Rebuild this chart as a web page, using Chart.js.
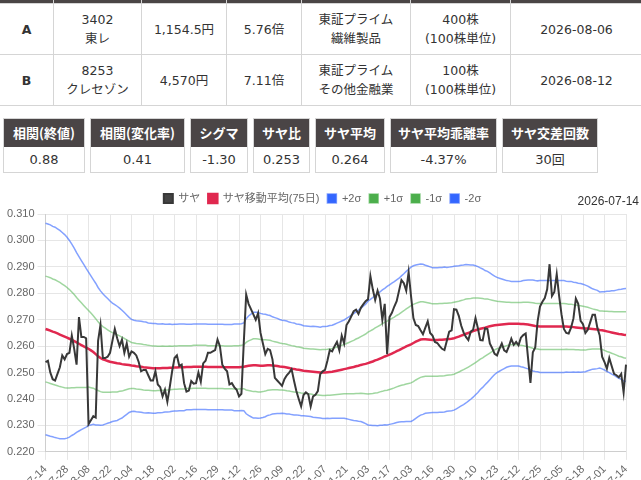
<!DOCTYPE html>
<html>
<head>
<meta charset="utf-8">
<title>サヤ推移</title>
<script src="https://cdn.jsdelivr.net/npm/chart.js"></script>
<style>
    body {
        margin: 0;
        width: 641px;
        overflow: hidden;
        background: #fff;
        color: #333;
        font-family: "DejaVu Sans", "Noto Sans CJK JP", sans-serif;
        font-size: 12.5px;
    }
    table.pair {
        border-collapse: collapse;
        width: 643px;
        margin-left: -1px;
        table-layout: fixed;
    }
    table.pair th {
        background: #4a4545;
        height: 3px;
        padding: 0;
        border-left: 1px solid #d5d5d5;
        border-right: 1px solid #d5d5d5;
    }
    table.pair td {
        border: 1px solid #d5d5d5;
        text-align: center;
        height: 50px;
        padding: 0;
        line-height: 19px;
    }
    table.pair td.code { font-weight: bold; }
    .stats {
        display: flex;
        gap: 5px;
        margin: 12px 0 0 3px;
    }
    .box {
        border: 1px solid #d5d5d5;
        box-sizing: border-box;
        text-align: center;
    }
    .box .hd {
        background: #4a4546;
        color: #fff;
        font-weight: bold;
        font-family: "Noto Sans CJK JP", sans-serif;
        font-size: 13px;
        height: 28px;
        line-height: 28px;
    }
    .box .vl {
        height: 25px;
        line-height: 25px;
        font-size: 13px;
    }
    .chart-wrap {
        position: relative;
        width: 641px;
        height: 330px;
        margin-top: 12px;
    }
    #asof {
        position: absolute;
        right: 2px;
        top: 9px;
        font-family: "Liberation Sans", sans-serif;
        font-size: 12px;
        color: #333;
    }
</style>
</head>
<body>
<table class="pair">
    <colgroup>
        <col style="width:54px"><col style="width:88px"><col style="width:85px"><col style="width:75px">
        <col style="width:109px"><col style="width:100px"><col style="width:132px">
    </colgroup>
    <thead><tr><th></th><th></th><th></th><th></th><th></th><th></th><th></th></tr></thead>
    <tbody>
        <tr>
            <td class="code">A</td><td>3402<br>東レ</td><td>1,154.5円</td><td>5.76倍</td>
            <td>東証プライム<br>繊維製品</td><td>400株<br>(100株単位)</td><td>2026-08-06</td>
        </tr>
        <tr>
            <td class="code">B</td><td>8253<br>クレセゾン</td><td>4,570円</td><td>7.11倍</td>
            <td>東証プライム<br>その他金融業</td><td>100株<br>(100株単位)</td><td>2026-08-12</td>
        </tr>
    </tbody>
</table>

<div class="stats" id="stats"></div>

<div class="chart-wrap">
    <div id="asof">2026-07-14</div>
    <canvas id="sayaChart"></canvas>
</div>

<script>
    // summary boxes
    const statNames  = ['相関(終値)', '相関(変化率)', 'シグマ', 'サヤ比', 'サヤ平均', 'サヤ平均乖離率', 'サヤ交差回数'];
    const statValues = ['0.88', '0.41', '-1.30', '0.253', '0.264', '-4.37%', '30回'];
    const statWidths = [82, 95, 58, 57, 70, 107, 96];

    const statsDiv = document.getElementById('stats');
    statNames.forEach((name, i) => {
        const box = document.createElement('div');
        box.className = 'box';
        box.style.width = statWidths[i] + 'px';
        box.innerHTML = '<div class="hd">' + name + '</div><div class="vl">' + statValues[i] + '</div>';
        statsDiv.appendChild(box);
    });

    // trading days (TSE), 2025-07-14 .. 2026-07-14
    const firstDay = '2025-07-14';
    const lastDay = '2026-07-14';
    const holidays = [
        '2025-07-21', '2025-08-11', '2025-09-15', '2025-09-23', '2025-10-13', '2025-11-03',
        '2025-11-24', '2025-12-31', '2026-01-01', '2026-01-02', '2026-01-12', '2026-02-11',
        '2026-02-23', '2026-03-20', '2026-04-29', '2026-05-04', '2026-05-05', '2026-05-06'
    ];

    function tradingDays(from, to) {
        const out = [];
        const d = new Date(from + 'T00:00:00Z');
        const end = new Date(to + 'T00:00:00Z');
        while (d <= end) {
            const s = d.toISOString().slice(0, 10);
            const wd = d.getUTCDay();
            if (wd !== 0 && wd !== 6 && !holidays.includes(s)) out.push(s);
            d.setUTCDate(d.getUTCDate() + 1);
        }
        return out;
    }
    const dates = tradingDays(firstDay, lastDay);

    // サヤ (A/B price ratio)
    const saya = [
        0.2540, 0.2545, 0.2500, 0.2475, 0.2470, 0.2495, 0.2520, 0.2565, 0.2550,
        0.2570, 0.2575, 0.2640, 0.2590, 0.2530, 0.2710, 0.2635, 0.2635, 0.2630,
        0.2305, 0.2320, 0.2335, 0.2330, 0.2620, 0.2680, 0.2555, 0.2555, 0.2560,
        0.2575, 0.2620, 0.2665, 0.2630, 0.2600, 0.2625, 0.2575, 0.2610, 0.2560,
        0.2580, 0.2575, 0.2565, 0.2540, 0.2505, 0.2510, 0.2510, 0.2490, 0.2470,
        0.2470, 0.2505, 0.2455, 0.2445, 0.2410, 0.2435, 0.2390, 0.2445, 0.2505,
        0.2555, 0.2565, 0.2525, 0.2530, 0.2460, 0.2428, 0.2432, 0.2468, 0.2458,
        0.2460, 0.2500, 0.2465, 0.2535, 0.2545, 0.2575, 0.2575, 0.2580, 0.2585,
        0.2625, 0.2600, 0.2530, 0.2515, 0.2505, 0.2455, 0.2460, 0.2445, 0.2435,
        0.2410, 0.2420, 0.2615, 0.2795, 0.2760, 0.2740, 0.2720, 0.2700, 0.2725,
        0.2650, 0.2610, 0.2570, 0.2590, 0.2585, 0.2550, 0.2480, 0.2470, 0.2460,
        0.2450, 0.2475, 0.2490, 0.2500, 0.2513, 0.2470, 0.2430, 0.2400, 0.2372,
        0.2415, 0.2425, 0.2418, 0.2372, 0.2410, 0.2416, 0.2430, 0.2494, 0.2505,
        0.2510, 0.2545, 0.2585, 0.2580, 0.2600, 0.2616, 0.2584, 0.2640, 0.2610,
        0.2680, 0.2694, 0.2713, 0.2732, 0.2738, 0.2722, 0.2745, 0.2758, 0.2770,
        0.2777, 0.2865, 0.2815, 0.2775, 0.2810, 0.2780, 0.2700, 0.2760, 0.2570,
        0.2710, 0.2726, 0.2750, 0.2770, 0.2810, 0.2850, 0.2838, 0.2810, 0.2880,
        0.2790, 0.2706, 0.2680, 0.2676, 0.2660, 0.2645, 0.2670, 0.2694, 0.2650,
        0.2640, 0.2616, 0.2612, 0.2600, 0.2590, 0.2585, 0.2620, 0.2655, 0.2660,
        0.2740, 0.2738, 0.2715, 0.2678, 0.2652, 0.2635, 0.2623, 0.2655, 0.2662,
        0.2706, 0.2668, 0.2623, 0.2622, 0.2668, 0.2665, 0.2610, 0.2592, 0.2571,
        0.2565, 0.2590, 0.2610, 0.2584, 0.2578, 0.2600, 0.2628, 0.2605, 0.2616,
        0.2603, 0.2632, 0.2642, 0.2648, 0.2555, 0.2461, 0.2577, 0.2595, 0.2694,
        0.2750, 0.2768, 0.2782, 0.2815, 0.2910, 0.2790, 0.2805, 0.2872, 0.2790,
        0.2720, 0.2665, 0.2650, 0.2648, 0.2670, 0.2705, 0.2780, 0.2760, 0.2696,
        0.2683, 0.2650, 0.2662, 0.2690, 0.2719, 0.2719, 0.2670, 0.2640, 0.2560,
        0.2540, 0.2515, 0.2555, 0.2525, 0.2495, 0.2490, 0.2482, 0.2495, 0.2425,
        0.2530
    ];

    // サヤ移動平均(75日)
    const sayaMA = [
        0.2665, 0.2662, 0.2659, 0.2655, 0.2652, 0.2648, 0.2644, 0.2640, 0.2636,
        0.2632, 0.2628, 0.2624, 0.2619, 0.2614, 0.2609, 0.2604, 0.2599, 0.2594,
        0.2590, 0.2584, 0.2578, 0.2570, 0.2562, 0.2555, 0.2550, 0.2547, 0.2544,
        0.2541, 0.2539, 0.2537, 0.2535, 0.2534, 0.2532, 0.2531, 0.2530, 0.2529,
        0.2527, 0.2526, 0.2524, 0.2523, 0.2522, 0.2520, 0.2519, 0.2518, 0.2517,
        0.2516, 0.2516, 0.2516, 0.2516, 0.2517, 0.2517, 0.2517, 0.2518, 0.2518,
        0.2519, 0.2519, 0.2520, 0.2520, 0.2520, 0.2521, 0.2521, 0.2521, 0.2522,
        0.2522, 0.2522, 0.2522, 0.2522, 0.2522, 0.2521, 0.2521, 0.2521, 0.2521,
        0.2521, 0.2521, 0.2521, 0.2520, 0.2520, 0.2520, 0.2520, 0.2520, 0.2520,
        0.2520, 0.2521, 0.2522, 0.2524, 0.2526, 0.2527, 0.2528, 0.2528, 0.2527,
        0.2526, 0.2526, 0.2527, 0.2528, 0.2528, 0.2527, 0.2526, 0.2525, 0.2523,
        0.2522, 0.2521, 0.2519, 0.2517, 0.2515, 0.2514, 0.2512, 0.2511, 0.2509,
        0.2507, 0.2506, 0.2505, 0.2504, 0.2503, 0.2502, 0.2501, 0.2500, 0.2500,
        0.2500, 0.2501, 0.2502, 0.2503, 0.2505, 0.2507, 0.2509, 0.2511, 0.2513,
        0.2515, 0.2517, 0.2519, 0.2521, 0.2524, 0.2526, 0.2529, 0.2531, 0.2533,
        0.2536, 0.2539, 0.2542, 0.2546, 0.2549, 0.2553, 0.2557, 0.2561, 0.2564,
        0.2568, 0.2572, 0.2576, 0.2581, 0.2585, 0.2590, 0.2594, 0.2599, 0.2603,
        0.2607, 0.2612, 0.2617, 0.2621, 0.2625, 0.2626, 0.2626, 0.2625, 0.2624,
        0.2623, 0.2623, 0.2623, 0.2624, 0.2624, 0.2625, 0.2626, 0.2627, 0.2628,
        0.2630, 0.2633, 0.2636, 0.2640, 0.2643, 0.2647, 0.2650, 0.2653, 0.2657,
        0.2660, 0.2663, 0.2666, 0.2668, 0.2670, 0.2673, 0.2675, 0.2677, 0.2679,
        0.2680, 0.2681, 0.2682, 0.2683, 0.2684, 0.2685, 0.2685, 0.2685, 0.2685,
        0.2685, 0.2684, 0.2684, 0.2683, 0.2682, 0.2680, 0.2678, 0.2676, 0.2675,
        0.2674, 0.2674, 0.2674, 0.2674, 0.2674, 0.2674, 0.2674, 0.2674, 0.2674,
        0.2674, 0.2674, 0.2674, 0.2673, 0.2673, 0.2672, 0.2671, 0.2670, 0.2669,
        0.2668, 0.2667, 0.2667, 0.2666, 0.2665, 0.2664, 0.2663, 0.2661, 0.2660,
        0.2658, 0.2656, 0.2654, 0.2652, 0.2650, 0.2648, 0.2646, 0.2645, 0.2643,
        0.2642
    ];

    // rolling standard deviation (σ) of サヤ
    const sayaSigma = [
        0.0200, 0.0200, 0.0200, 0.0199, 0.0199, 0.0198, 0.0197, 0.0195, 0.0193,
        0.0190, 0.0186, 0.0181, 0.0176, 0.0170, 0.0165, 0.0160, 0.0155, 0.0150,
        0.0145, 0.0141, 0.0137, 0.0134, 0.0130, 0.0127, 0.0124, 0.0121, 0.0118,
        0.0115, 0.0112, 0.0110, 0.0108, 0.0105, 0.0102, 0.0098, 0.0094, 0.0090,
        0.0087, 0.0086, 0.0086, 0.0086, 0.0086, 0.0086, 0.0086, 0.0085, 0.0085,
        0.0085, 0.0085, 0.0084, 0.0084, 0.0084, 0.0083, 0.0083, 0.0083, 0.0082,
        0.0082, 0.0082, 0.0082, 0.0082, 0.0082, 0.0081, 0.0081, 0.0081, 0.0081,
        0.0081, 0.0081, 0.0081, 0.0081, 0.0081, 0.0081, 0.0081, 0.0081, 0.0081,
        0.0081, 0.0081, 0.0081, 0.0081, 0.0081, 0.0081, 0.0081, 0.0082, 0.0082,
        0.0082, 0.0082, 0.0083, 0.0090, 0.0094, 0.0097, 0.0100, 0.0100, 0.0100,
        0.0099, 0.0098, 0.0097, 0.0095, 0.0094, 0.0092, 0.0091, 0.0090, 0.0089,
        0.0088, 0.0088, 0.0088, 0.0087, 0.0087, 0.0087, 0.0086, 0.0086, 0.0086,
        0.0085, 0.0085, 0.0085, 0.0085, 0.0086, 0.0086, 0.0086, 0.0086, 0.0087,
        0.0087, 0.0087, 0.0088, 0.0088, 0.0089, 0.0090, 0.0091, 0.0092, 0.0093,
        0.0095, 0.0097, 0.0099, 0.0101, 0.0103, 0.0105, 0.0107, 0.0110, 0.0113,
        0.0117, 0.0119, 0.0121, 0.0123, 0.0125, 0.0126, 0.0128, 0.0129, 0.0131,
        0.0132, 0.0133, 0.0134, 0.0135, 0.0136, 0.0138, 0.0140, 0.0142, 0.0144,
        0.0146, 0.0146, 0.0145, 0.0144, 0.0143, 0.0142, 0.0140, 0.0139, 0.0138,
        0.0137, 0.0137, 0.0137, 0.0137, 0.0137, 0.0137, 0.0136, 0.0136, 0.0136,
        0.0136, 0.0135, 0.0134, 0.0133, 0.0132, 0.0131, 0.0129, 0.0127, 0.0125,
        0.0122, 0.0119, 0.0115, 0.0112, 0.0108, 0.0105, 0.0101, 0.0097, 0.0093,
        0.0090, 0.0088, 0.0086, 0.0084, 0.0082, 0.0081, 0.0080, 0.0080, 0.0080,
        0.0080, 0.0081, 0.0082, 0.0083, 0.0084, 0.0085, 0.0086, 0.0086, 0.0086,
        0.0087, 0.0087, 0.0087, 0.0087, 0.0087, 0.0087, 0.0087, 0.0087, 0.0087,
        0.0087, 0.0087, 0.0086, 0.0086, 0.0086, 0.0085, 0.0085, 0.0084, 0.0084,
        0.0083, 0.0082, 0.0080, 0.0078, 0.0076, 0.0075, 0.0074, 0.0072, 0.0073,
        0.0074, 0.0076, 0.0077, 0.0079, 0.0080, 0.0082, 0.0084, 0.0085, 0.0087,
        0.0088
    ];

    const yTicks = [0.22, 0.23, 0.24, 0.25, 0.26, 0.27, 0.28, 0.29, 0.30, 0.31];
    const tickEvery = 9;   // one x label every 9 trading days

    // bands = MA ± kσ
    const band = k => sayaMA.map((m, i) => +(m + k * sayaSigma[i]).toFixed(4));

    const blueLine = 'rgba(64,110,255,0.65)';
    const greenLine = 'rgba(80,180,80,0.55)';

    Chart.defaults.font.family = "'Liberation Sans', 'Noto Sans CJK JP', sans-serif";
    Chart.defaults.font.size = 11;
    Chart.defaults.color = '#666';

    const ctx = document.getElementById('sayaChart').getContext('2d');
    const chart = new Chart(ctx, {
        type: 'line',
        data: {
            labels: dates,
            datasets: [
                { label: 'サヤ', data: saya, borderColor: '#383838', backgroundColor: '#444', borderWidth: 2 },
                { label: 'サヤ移動平均(75日)', data: sayaMA, borderColor: '#e0284f', backgroundColor: '#e0284f', borderWidth: 2.5 },
                { label: '+2σ', data: band(2), borderColor: blueLine, backgroundColor: '#3366ff', borderWidth: 1.5 },
                { label: '+1σ', data: band(1), borderColor: greenLine, backgroundColor: '#4cae4c', borderWidth: 1.5 },
                { label: '-1σ', data: band(-1), borderColor: greenLine, backgroundColor: '#4cae4c', borderWidth: 1.5 },
                { label: '-2σ', data: band(-2), borderColor: blueLine, backgroundColor: '#3366ff', borderWidth: 1.5 }
            ]
        },
        options: {
            responsive: true,
            maintainAspectRatio: false,
            animation: false,
            layout: { padding: { left: 4, right: 0 } },
            elements: {
                point: { radius: 0 },
                line: { tension: 0 }
            },
            plugins: {
                legend: {
                    labels: { boxWidth: 9, boxHeight: 9, padding: 8, color: '#666' }
                },
                tooltip: { enabled: false }
            },
            scales: {
                x: {
                    grid: { color: '#e6e6e6' },
                    ticks: { autoSkip: false, minRotation: 45, maxRotation: 45 },
                    afterBuildTicks: axis => {
                        axis.ticks = axis.ticks.filter(t => t.value % tickEvery === 0);
                    }
                },
                y: {
                    min: yTicks[0],
                    max: yTicks[yTicks.length - 1],
                    grid: { color: '#e6e6e6' },
                    afterBuildTicks: axis => {
                        axis.ticks = yTicks.map(v => ({ value: v }));
                    },
                    ticks: { callback: v => Number(v).toFixed(3) }
                },
                // empty strip on the right, keeps the plot edge off the border
                spacer: {
                    axis: 'y',
                    position: 'right',
                    grid: { display: false, drawTicks: false },
                    border: { display: false },
                    ticks: { display: false },
                    afterFit: axis => { axis.width = 15; }
                }
            }
        }
    });
</script>
</body>
</html>
